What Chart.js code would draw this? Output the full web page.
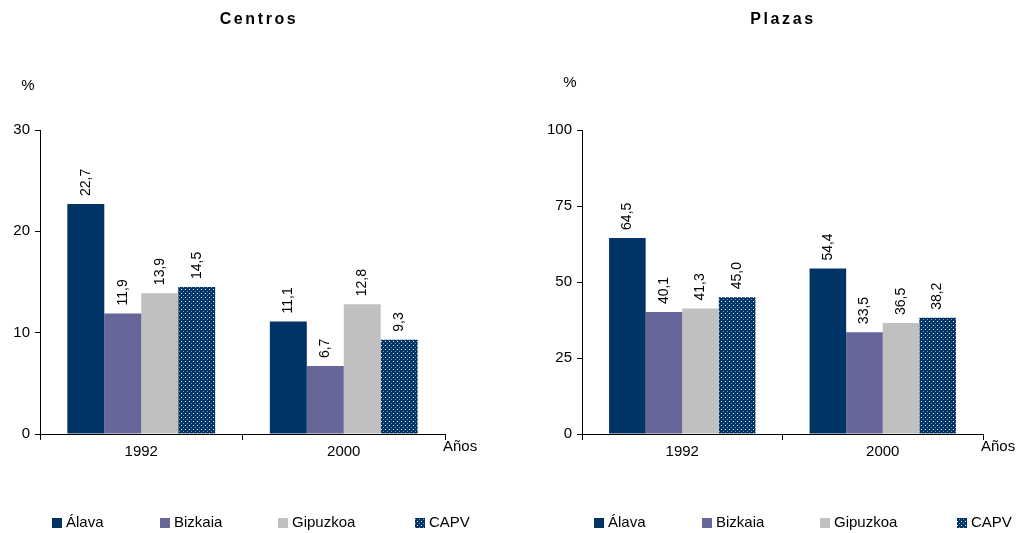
<!DOCTYPE html>
<html>
<head>
<meta charset="utf-8">
<script src="https://cdn.jsdelivr.net/npm/chart.js@4/dist/chart.umd.min.js"></script>
<style>
  html, body { margin: 0; padding: 0; background: #fff; }
  #wrap { position: relative; width: 1025px; height: 533px; }
  canvas { position: absolute; top: 0; }
  #c1 { left: 0; }
  #c2 { left: 512px; }
</style>
</head>
<body>
<div id="wrap">
  <canvas id="c1" width="512" height="533"></canvas>
  <canvas id="c2" width="513" height="533"></canvas>
</div>
<script>
const years = ['1992', '2000'];
const seriesNames = ['Álava', 'Bizkaia', 'Gipuzkoa', 'CAPV'];

const centrosAlava = [22.7, 11.1];
const centrosBizkaia = [11.9, 6.7];
const centrosGipuzkoa = [13.9, 12.8];
const centrosCapv = [14.5, 9.3];

const plazasAlava = [64.5, 54.4];
const plazasBizkaia = [40.1, 33.5];
const plazasGipuzkoa = [41.3, 36.5];
const plazasCapv = [45.0, 38.2];

const FONT = '"Liberation Sans", Arial, sans-serif';
const NAVY = '#003366';

function dotPattern() {
  const c = document.createElement('canvas');
  c.width = 4; c.height = 4;
  const g = c.getContext('2d');
  g.fillStyle = NAVY;
  g.fillRect(0, 0, 4, 4);
  g.fillStyle = '#ffffff';
  g.fillRect(1, 1, 1, 1);
  g.fillStyle = 'rgba(255,255,255,0.5)';
  g.fillRect(3, 3, 1, 1);
  return g.createPattern(c, 'repeat');
}

const COLORS = [NAVY, '#666699', '#C0C0C0', dotPattern()];
const LEGEND_OFFSETS = [12, 120, 238, 375];

function fmt(v) {
  return v.toFixed(1).replace('.', ',');
}

const decorPlugin = {
  id: 'decor',
  afterDatasetsDraw(chart) {
    const ctx = chart.ctx;
    ctx.save();
    ctx.font = '14px ' + FONT;
    ctx.fillStyle = '#000';
    ctx.textAlign = 'left';
    ctx.textBaseline = 'middle';
    chart.data.datasets.forEach((ds, i) => {
      chart.getDatasetMeta(i).data.forEach((bar, j) => {
        ctx.save();
        ctx.translate(bar.x, bar.y - 8);
        ctx.rotate(-Math.PI / 2);
        ctx.fillText(fmt(ds.data[j]), 0, 0);
        ctx.restore();
      });
    });
    ctx.restore();
  },
  afterDraw(chart, args, opts) {
    const ctx = chart.ctx;
    const area = chart.chartArea;
    ctx.save();
    ctx.fillStyle = '#000';

    // title
    ctx.font = 'bold 16px ' + FONT;
    ctx.letterSpacing = '2.6px';
    ctx.textAlign = 'center';
    ctx.textBaseline = 'middle';
    ctx.fillText(opts.title, opts.titleX + 1, 20);
    ctx.letterSpacing = '0px';

    // unit and axis name
    ctx.font = '15px ' + FONT;
    ctx.fillText('%', area.left - 12, opts.pctY);
    ctx.textAlign = 'left';
    ctx.fillText('Años', area.right - 2, 447);

    // legend
    ctx.textBaseline = 'middle';
    chart.data.datasets.forEach((ds, i) => {
      const x = area.left + LEGEND_OFFSETS[i];
      ctx.fillStyle = ds.backgroundColor;
      ctx.fillRect(x, 518, 10, 10);
      ctx.fillStyle = '#000';
      ctx.fillText(ds.label, x + 14, 523);
    });
    ctx.restore();
  }
};

function makeChart(id, values, yMax, yStep, padLeft, padRight, yWidth, title, titleX, pctY) {
  return new Chart(document.getElementById(id), {
    type: 'bar',
    data: {
      labels: years,
      datasets: values.map((v, i) => ({
        label: seriesNames[i],
        data: v,
        backgroundColor: COLORS[i],
        borderWidth: 0,
        categoryPercentage: 0.73,
        barPercentage: 1
      }))
    },
    options: {
      responsive: false,
      animation: false,
      devicePixelRatio: 1,
      layout: { padding: { left: padLeft, right: padRight, top: 130, bottom: 0 } },
      plugins: {
        legend: { display: false },
        tooltip: { enabled: false },
        decor: { title, titleX, pctY }
      },
      scales: {
        x: {
          grid: { offset: true, drawOnChartArea: false, tickLength: 6, tickColor: '#000' },
          border: { color: '#000' },
          ticks: { color: '#000', font: { family: FONT, size: 15 }, padding: 3 },
          afterFit: (s) => { s.height = 99; }
        },
        y: {
          min: 0,
          max: yMax,
          grid: { drawOnChartArea: false, tickLength: 5, tickColor: '#000' },
          border: { color: '#000' },
          ticks: { stepSize: yStep, color: '#000', font: { family: FONT, size: 15 }, padding: 5 },
          afterFit: (s) => { s.width = yWidth; }
        }
      }
    },
    plugins: [decorPlugin]
  });
}

makeChart('c1', [centrosAlava, centrosBizkaia, centrosGipuzkoa, centrosCapv],
  30, 10, 0, 67, 40, 'Centros', 258, 86);
makeChart('c2', [plazasAlava, plazasBizkaia, plazasGipuzkoa, plazasCapv],
  100, 25, 30, 42, 40, 'Plazas', 270, 83);
</script>
</body>
</html>
